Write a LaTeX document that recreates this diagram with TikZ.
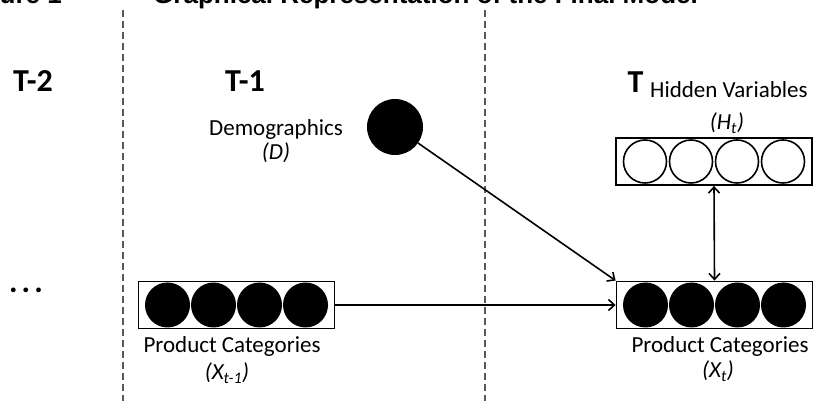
\documentclass[tikz,border=0pt]{standalone}
\usepackage{fontspec}
\setmainfont{Carlito}
\newfontfamily\capfont{Liberation Sans}
\usetikzlibrary{positioning,arrows.meta}

\begin{document}
\begin{tikzpicture}[
  x=1pt, y=1pt,
  font=\fontsize{23}{27}\selectfont,
  >={Straight Barb[length=6pt,width=11pt]},
  catbox/.style={draw, line width=1.8pt, minimum width=196pt, minimum height=47pt, inner sep=0pt},
  fullc/.style={circle, fill=black, minimum size=45pt, inner sep=0pt},
  emptyc/.style={circle, draw, line width=1.6pt, minimum size=43pt, inner sep=0pt},
  arr/.style={->, line width=1.6pt},
  sep/.style={draw=black!65, line width=1.8pt, dash pattern=on 7pt off 4pt},
  tlbl/.style={font=\fontsize{32}{36}\selectfont\bfseries, anchor=base, inner sep=0pt},
  lbl/.style={anchor=base, inner sep=0pt},
  var/.style={lbl, font=\fontsize{23}{27}\selectfont\itshape},
  figcap/.style={lbl, font=\capfont\fontsize{26}{30}\selectfont\bfseries}
]
\useasboundingbox (0,0) rectangle (813,401);
\clip (0,0) rectangle (813,401);

% ---------------- caption (cut at the top) ----------------
\node[figcap, anchor=base east] (fig) at (62,397) {Figure 1};
\node[figcap, anchor=base west] (title) at (153,397) {Graphical Representation of the Final Model};

% ---------------- time slices ----------------
\coordinate (s1top) at (123,391);
\coordinate (s1bot) at (123,0);
\coordinate (s2top) at (485,391);
\coordinate (s2bot) at (485,0);
\draw[sep] (s1top) -- (s1bot);
\draw[sep] (s2top) -- (s2bot);

\node[tlbl] (t2) at (33,309) {T-2};
\node[tlbl] (t1) at (245,309) {T-1};
\node[tlbl] (t0) at (635.5,308) {T};
\node[lbl, anchor=base west] (hidlbl) at (650,303) {Hidden Variables};
\node[tlbl] (dots) at (26,108) {.\kern4pt.\kern4pt.};

% ---------------- T-1 ----------------
\node[circle, fill=black, minimum size=56pt, inner sep=0pt] (demo) at (395,274) {};
\node[lbl] (demolbl) at (276,265) {Demographics};
\node[var] (dvar) at (276,241) {(D)};

\node[catbox] (xprev) at (236.5,96) {};
\foreach \i/\dx in {1/-69,2/-23,3/23,4/69}
  \node[fullc] (xp\i) at ([xshift=\dx pt]xprev.center) {};
\node[lbl] (xplbl) at (232,48) {Product Categories};
\node[var] (xpvar) at (227,21) {(X\textsubscript{t-1})};

% ---------------- T ----------------
\node[catbox] (hcur) at (714,239.5) {};
\foreach \i/\dx in {1/-69,2/-23,3/23,4/69}
  \node[emptyc] (h\i) at ([xshift=\dx pt]hcur.center) {};
\node[var] (hvar) at (727,271) {(H\textsubscript{t})};

\node[catbox] (xcur) at (714.5,96) {};
\foreach \i/\dx in {1/-69,2/-23,3/23,4/69}
  \node[fullc] (xc\i) at ([xshift=\dx pt]xcur.center) {};
\node[lbl] (xclbl) at (720,48) {Product Categories};
\node[var] (xcvar) at (718,23) {(X\textsubscript{t})};

% ---------------- dependencies ----------------
\draw[arr] (demo) -- (xcur.north west);
\draw[arr] (xprev.east) -- (xcur.west);
\draw[arr, <->] (hcur.south) -- (xcur.north);
\end{tikzpicture}
\end{document}
